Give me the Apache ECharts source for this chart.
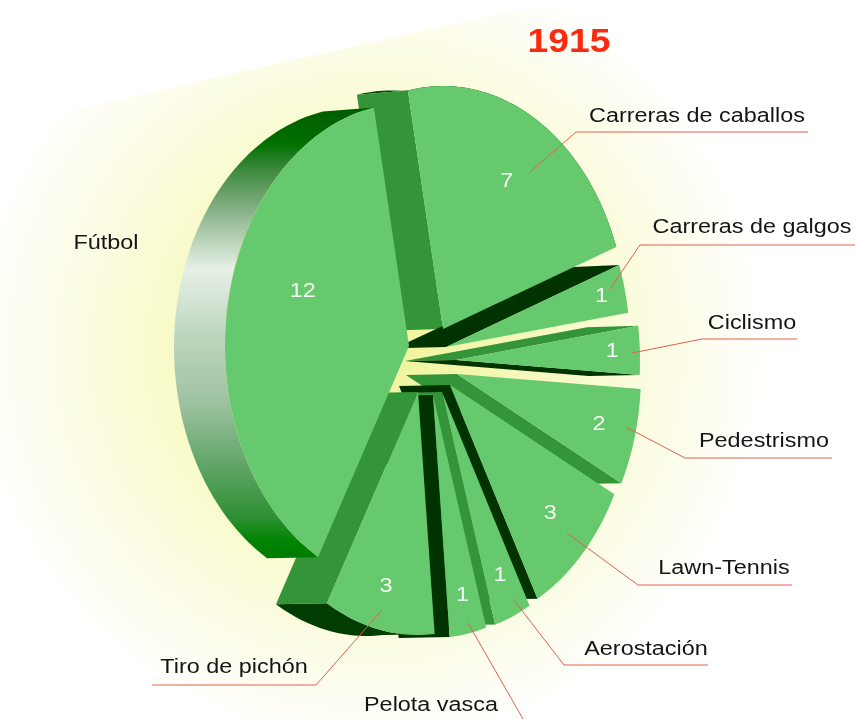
<!DOCTYPE html>
<html>
<head>
<meta charset="utf-8">
<title>1915</title>
<style>
  html, body { margin: 0; padding: 0; background: #fff; }
  #chart { width: 855px; height: 719px; }
</style>
<script src="https://cdn.jsdelivr.net/npm/echarts@6/dist/echarts.min.js"></script>
</head>
<body>
<div id="chart"></div>
<script>
const categories = ['Carreras de caballos', 'Carreras de galgos', 'Ciclismo', 'Pedestrismo', 'Lawn-Tennis', 'Aerostación', 'Pelota vasca', 'Tiro de pichón', 'Fútbol']
const sliceValues = [7, 1, 1, 2, 3, 1, 1, 3, 12]
const chartTitle = '1915'

// disc geometry, the face is an ellipse because of the tilted view
const rx = 184, ry = 243, cx = 430, cy = 365, depth = 51
const startAngle = -11
const sliceShift = [[13, -36], [16, -18], [26, -5], [27, 9], [20, 20], [12, 27], [3, 30], [-12, 27], [-21, -19]]
const labelRadius = [0.7, 0.87, 0.85, 0.8, 0.76, 0.82, 0.84, 0.82, 0.62]
const labelTurn = [0, 0, 0, 0, 0, 0, 0, 0, 12]

const FACE = '#66c96e', MID = '#339438', DARK = '#003300'
// wall colours: edge at the start of the slice, edge at its end, rim
const futbolRim = {
  type: 'linear', x: 0, y: 108, x2: 0, y2: 555, global: true,
  colorStops: [
    { offset: 0, color: '#005c00' }, { offset: 0.08, color: '#007000' }, { offset: 0.14, color: '#3f8a3f' },
    { offset: 0.25, color: '#98bc98' }, { offset: 0.36, color: '#e6f0e6' }, { offset: 0.51, color: '#bcd6be' },
    { offset: 0.65, color: '#a0c4a3' }, { offset: 0.81, color: '#5ca262' }, { offset: 0.92, color: '#2a8f30' },
    { offset: 0.97, color: '#008400' }, { offset: 1, color: '#007c00' }
  ]
}
const wallStyle = [
  [MID, null, '#004a00'], [DARK, null, null], [MID, DARK, null], [null, MID, null], [null, DARK, null],
  [null, MID, null], [null, DARK, null], [null, MID, '#013c01'], [null, null, futbolRim]
]

// label text position, then the leader line
const labelAt = [[697, 116], [752, 227], [752, 323], [764, 441], [724, 568], [646, 649], [431, 705], [234, 667], [106, 243]]
const leaderLines = [
  [[530, 172], [576, 132], [808, 132]], [[610, 289], [640, 245], [855, 245]], [[632, 353], [702, 339], [797, 339]],
  [[626, 427], [685, 458], [832, 458]], [[567, 533], [638, 585], [792, 585]], [[513, 599], [564, 665], [708, 665]],
  [[468, 623], [523, 719]], [[382, 610], [316, 685], [152, 685]], []
]

const total = sliceValues.reduce((a, b) => a + b, 0)
function angleRange(i) {
  const before = sliceValues.slice(0, i).reduce((a, b) => a + b, 0)
  return [startAngle + before / total * 360, startAngle + (before + sliceValues[i]) / total * 360]
}
function onSlice(i, deg, r) {
  const t = deg * Math.PI / 180
  return [cx + sliceShift[i][0] + rx * r * Math.sin(t), cy + sliceShift[i][1] - ry * r * Math.cos(t)]
}
function toBack(p) {
  return [p[0] - depth, p[1] + 1 + Math.max(0, cy - p[1]) * 0.012]
}
function rimPoints(i) {
  const [a, b] = angleRange(i)
  const pts = []
  for (let d = a; d < b; d += 2) pts.push(onSlice(i, d, 1))
  pts.push(onSlice(i, b, 1))
  return pts
}
function wall(points, fill) {
  return { type: 'polygon', shape: { points }, style: { fill } }
}

function renderWalls(params) {
  const i = params.dataIndex
  const [a, b] = angleRange(i)
  const apex = onSlice(i, 0, 0)
  const rim = rimPoints(i)
  const [startFill, endFill, rimFill] = wallStyle[i]
  const children = []
  if (rimFill) children.push(wall(rim.concat(rim.map(toBack).reverse()), rimFill))
  if (startFill) {
    const p = onSlice(i, a, 1)
    children.push(wall([apex, p, toBack(p), toBack(apex)], startFill))
  }
  if (endFill) {
    const p = onSlice(i, b, 1)
    children.push(wall([apex, p, toBack(p), toBack(apex)], endFill))
  }
  return { type: 'group', children }
}

function renderFace(params, api) {
  const i = params.dataIndex
  const [a, b] = angleRange(i)
  const mid = (a + b) / 2 + labelTurn[i]
  const pos = onSlice(i, mid, labelRadius[i])
  return {
    type: 'group',
    children: [
      { type: 'polygon', shape: { points: [onSlice(i, 0, 0)].concat(rimPoints(i)) }, style: { fill: FACE } },
      {
        type: 'text', x: pos[0], y: pos[1], scaleX: 1.17, z2: 5,
        style: { text: String(api.value(0)), fill: '#f4f8f2', font: '20px "Liberation Sans"', align: 'center', verticalAlign: 'middle' }
      }
    ]
  }
}

function renderLabel(params) {
  const i = params.dataIndex
  const children = [{
    type: 'text', x: labelAt[i][0], y: labelAt[i][1], scaleX: 1.17,
    style: { text: categories[i], fill: '#151515', font: '20px "Liberation Sans"', align: 'center', verticalAlign: 'middle' }
  }]
  if (leaderLines[i].length) {
    children.push({
      type: 'polyline', shape: { points: leaderLines[i] },
      style: { stroke: '#e4604e', lineWidth: 1, fill: null }
    })
  }
  return { type: 'group', children }
}

const seriesData = sliceValues.map((v, i) => ({ name: categories[i], value: [v] }))
const chart = echarts.init(document.getElementById('chart'), null, { renderer: 'canvas' })
chart.setOption({
  animation: false,
  backgroundColor: '#fff',
  graphic: [
    {
      // soft yellow glow behind the disc
      type: 'polygon', z: -1, silent: true,
      shape: { points: [[0, 126], [525, 8], [855, 8], [855, 719], [0, 719]] },
      style: {
        fill: {
          type: 'radial', x: 370, y: 350, r: 400, global: true,
          colorStops: [
            { offset: 0, color: '#f0f49a' }, { offset: 0.3, color: '#f4f7b0' }, { offset: 0.6, color: '#f9fbd4' },
            { offset: 0.85, color: '#fdfdf0' }, { offset: 1, color: '#ffffff' }
          ]
        }
      }
    },
    {
      type: 'text', x: 569, y: 43, scaleX: 1.13, z: 5, silent: true,
      style: { text: chartTitle, fill: '#fa2a12', font: 'bold 33px "Liberation Sans"', align: 'center', verticalAlign: 'middle' }
    }
  ],
  series: [
    { type: 'custom', coordinateSystem: 'none', data: seriesData, renderItem: renderWalls, z: 1, silent: true },
    { type: 'custom', coordinateSystem: 'none', data: seriesData, renderItem: renderFace, z: 2, silent: true },
    { type: 'custom', coordinateSystem: 'none', data: seriesData, renderItem: renderLabel, z: 3, silent: true }
  ]
})
</script>
</body>
</html>
